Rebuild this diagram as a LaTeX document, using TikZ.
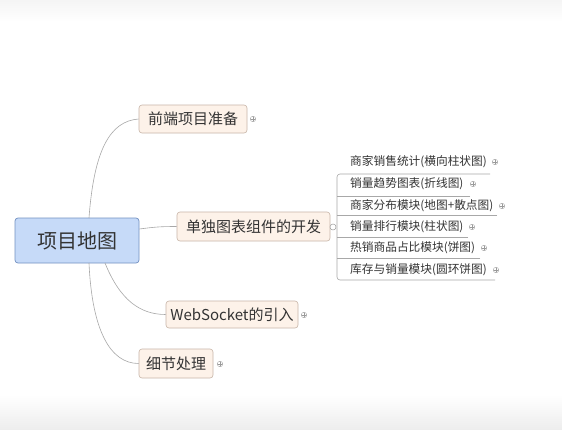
\documentclass[tikz,border=0pt]{standalone}
\usepackage{fontspec}
\setmainfont{Noto Sans CJK SC}
\newfontfamily\cjk{Noto Sans CJK SC}
\begin{document}
\definecolor{txt}{HTML}{333333}
\definecolor{rootfill}{HTML}{C6DAF8}
\definecolor{rootline}{HTML}{7391C2}
\definecolor{topicfill}{HTML}{FDF2E9}
\definecolor{topicline}{HTML}{C8B5A8}
\definecolor{wire}{HTML}{A8A8A8}
\definecolor{markgray}{HTML}{9A9A9A}
\begin{tikzpicture}[x=1pt,y=-1pt,
  root/.style={draw=rootline,fill=rootfill,rounded corners=3pt,line width=0.7pt,
    minimum width=124pt,minimum height=45pt,inner sep=0pt,
    font=\cjk\fontsize{20}{20}\selectfont,text=txt},
  topic/.style={draw=topicline,fill=topicfill,rounded corners=3pt,line width=0.6pt,
    minimum height=28pt,inner sep=0pt,
    font=\cjk\fontsize{15}{15}\selectfont,text=txt},
  sub/.style={anchor=west,inner sep=0pt,font=\cjk\fontsize{11.7}{12}\selectfont,text=txt},
  wirestyle/.style={draw=wire,line width=0.6pt},
  expander/.style={circle,draw=markgray,line width=0.4pt,minimum size=5.5pt,inner sep=0pt,
    path picture={\draw[markgray,line width=0.4pt]
      ([xshift=-1.6pt]path picture bounding box.center) -- ([xshift=1.6pt]path picture bounding box.center)
      ([yshift=-1.6pt]path picture bounding box.center) -- ([yshift=1.6pt]path picture bounding box.center);}},
  collapser/.style={circle,draw=markgray,line width=0.5pt,minimum size=6pt,inner sep=0pt,fill=white}
]
% page and faint shading at top and bottom edges
\fill[white] (0,0) rectangle (562,429);
\shade[top color=black!4,bottom color=white] (0,0) rectangle (562,22);
\shade[top color=white,bottom color=black!7] (0,395) rectangle (562,429);
\useasboundingbox (0,0) rectangle (562,429);

% central topic
\node[root] (root) at (77,240.5) {项目地图};

% main branches
\node[topic,minimum width=108pt] (t1) at (193,119) {前端项目准备};
\node[topic,minimum width=153pt,minimum height=29pt] (t2) at (253.5,226.5) {单独图表组件的开发};
\node[topic,minimum width=132pt,minimum height=27pt] (t3) at (232,314.5) {WebSocket的引入};
\node[topic,minimum width=74pt,minimum height=29pt] (t4) at (176,363.5) {细节处理};

\coordinate (r1) at (89,218);
\coordinate (r3) at (105,263);
\coordinate (r4) at (89,263);
\draw[wirestyle] (r1) .. controls (94,150) and (110,121) .. (t1.west);
\draw[wirestyle] (root.east |- 0,229) .. controls (155,227) and (160,226.5) .. (t2.west);
\draw[wirestyle] (r3) .. controls (120,300) and (140,314.5) .. (t3.west);
\draw[wirestyle] (r4) .. controls (92,330) and (110,363.5) .. (t4.west);

% expand / collapse markers
\node[expander] (e1) at (253,119) {};
\node[collapser] (c2) at (333,227) {};
\node[expander] (e3) at (304,315) {};
\node[expander] (e4) at (220,364) {};

% sub topics of the chart branch
\node[sub] (s1) at (350,162) {商家销售统计(横向柱状图)};
\node[sub] (s2) at (350,184) {销量趋势图表(折线图)};
\node[sub] (s3) at (350,206) {商家分布模块(地图+散点图)};
\node[sub] (s4) at (350,227) {销量排行模块(柱状图)};
\node[sub] (s5) at (350,248) {热销商品占比模块(饼图)};
\node[sub] (s6) at (350,270) {库存与销量模块(圆环饼图)};

\coordinate (u1) at (490,174);
\coordinate (u2) at (470,196);
\coordinate (u3) at (497,215);
\coordinate (u4) at (468,237);
\coordinate (u5) at (480,258);
\coordinate (u6) at (495,280);
\draw[wirestyle,rounded corners=3pt] (u1) -- (337,174) -- (337,280) -- (u6);
\foreach \u in {u2,u3,u4,u5}
  \draw[wirestyle] (\u) -- (337,0 |- \u);

\node[expander] (m1) at (495,162) {};
\node[expander] (m2) at (473,184) {};
\node[expander] (m3) at (502,206) {};
\node[expander] (m4) at (472,227) {};
\node[expander] (m5) at (484,248) {};
\node[expander] (m6) at (496,270) {};
\end{tikzpicture}
\end{document}
